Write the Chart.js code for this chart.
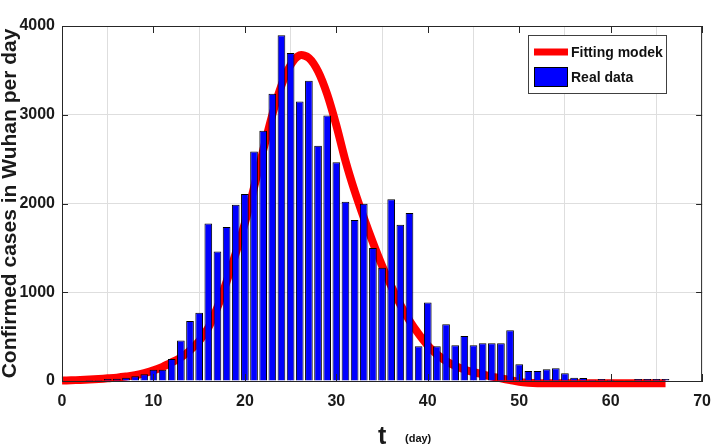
<!DOCTYPE html>
<html>
<head>
<meta charset="utf-8">
<script src="https://cdn.jsdelivr.net/npm/chart.js"></script>
<style>
	html, body { margin: 0; padding: 0; background: #fff; }
	canvas { display: block; }
</style>
</head>
<body>
<canvas id="wuhanChart" width="722" height="445"></canvas>
<script>
// daily confirmed cases (bars), day 1..66
const days = [1,2,3,4,5,6,7,8,9,10,11,12,13,14,15,16,17,18,19,20,21,22,23,24,25,26,27,28,29,30,31,32,33,34,35,36,37,38,39,40,41,42,43,44,45,46,47,48,49,50,51,52,53,54,55,56,57,58,59,60,61,62,63,64,65,66];
const realCases = [0,5,12,12,23,25,37,53,75,128,128,248,455,677,768,1776,1460,1735,1987,2107,2585,2819,3237,3895,3695,3150,3383,2650,2992,2465,2021,1814,1998,1498,1276,2047,1761,1893,391,884,391,640,403,508,403,425,425,425,572,188,113,113,132,143,87,38,34,15,23,15,3,8,23,23,23,23];

// fitted model curve, day 0..66
const fitDays = [0,1,2,3,4,5,6,7,8,9,10,11,12,13,14,15,16,17,18,19,20,21,22,23,24,25,26,27,28,29,30,31,32,33,34,35,36,37,38,39,40,41,42,43,44,45,46,47,48,49,50,51,52,53,54,55,56,57,58,59,60,61,62,63,64,65,66];
const fitCases = [5,8,12,17,23,30,38,50,65,90,120,160,210,265,345,450,600,830,1120,1440,1780,2180,2600,3000,3330,3560,3670,3640,3490,3230,2880,2480,2140,1840,1560,1300,1070,860,680,530,400,300,225,170,130,100,75,50,30,10,-10,-20,-25,-25,-25,-25,-25,-25,-25,-25,-25,-25,-25,-25,-25,-25,-25];

const xTicks = [0,10,20,30,40,50,60,70];
const yTicks = [0,1000,2000,3000,4000];

const seriesNames = ['Fitting modek', 'Real data'];

const fontFamily = "'Liberation Sans Narrow', 'Liberation Sans', Arial, sans-serif";
const tickFont = { family: fontFamily, size: 16, weight: 'bold' };

// box around plot, inward ticks, legend, "(day)"
const framePlugin = {
	id: 'frame',
	afterDraw(chart){
		const ctx = chart.ctx;
		const a = chart.chartArea;
		const xs = chart.scales.x, ys = chart.scales.y;
		ctx.save();
		ctx.strokeStyle = '#262626';
		ctx.lineWidth = 1;
		ctx.strokeRect(a.left + 0.5, a.top + 0.5, a.right - a.left - 1, a.bottom - a.top);
		ctx.beginPath();
		xTicks.forEach(v => {
			const px = Math.round(xs.getPixelForValue(v)) + 0.5;
			ctx.moveTo(px, a.top); ctx.lineTo(px, a.top + 7);
			ctx.moveTo(px, a.bottom); ctx.lineTo(px, a.bottom - 7);
		});
		yTicks.forEach(v => {
			const py = Math.round(ys.getPixelForValue(v)) + 0.5;
			ctx.moveTo(a.left, py); ctx.lineTo(a.left + 6, py);
			ctx.moveTo(a.right, py); ctx.lineTo(a.right - 6, py);
		});
		ctx.stroke();

		// legend
		const lx = 528, ly = 35, lw = 138, lh = 58;
		ctx.fillStyle = '#fff';
		ctx.fillRect(lx, ly, lw, lh);
		ctx.strokeStyle = '#404040';
		ctx.strokeRect(lx + 0.5, ly + 0.5, lw, lh);
		ctx.strokeStyle = '#ff0000';
		ctx.lineWidth = 7;
		ctx.beginPath();
		ctx.moveTo(534, 52); ctx.lineTo(568, 52);
		ctx.stroke();
		ctx.fillStyle = '#0000ff';
		ctx.fillRect(534, 67, 34, 20);
		ctx.strokeStyle = '#000';
		ctx.lineWidth = 1;
		ctx.strokeRect(534.5, 67.5, 33, 19);
		ctx.fillStyle = '#111';
		ctx.font = "bold 14px " + fontFamily;
		ctx.textBaseline = 'middle';
		ctx.textAlign = 'left';
		ctx.fillText(seriesNames[0], 571, 53);
		ctx.fillText(seriesNames[1], 571, 78);

		// unit next to x title
		ctx.font = "bold 11px " + fontFamily;
		ctx.textBaseline = 'alphabetic';
		ctx.fillText('(day)', 405, 442);
		ctx.restore();
	}
};

new Chart(document.getElementById('wuhanChart').getContext('2d'), {
	type: 'bar',
	data: {
		datasets: [
			{
				type: 'bar',
				label: seriesNames[1],
				data: days.map((d, i) => ({ x: d, y: realCases[i] })),
				backgroundColor: '#0000ff',
				borderColor: '#000',
				borderWidth: 1,
				barPercentage: 0.84,
				categoryPercentage: 1,
				order: 0
			},
			{
				type: 'line',
				label: seriesNames[0],
				data: fitDays.map((d, i) => ({ x: d, y: fitCases[i] })),
				borderColor: '#ff0000',
				borderWidth: 8,
				pointRadius: 0,
				tension: 0.3,
				fill: false,
				clip: false,
				order: 1
			}
		]
	},
	plugins: [framePlugin],
	options: {
		responsive: false,
		maintainAspectRatio: false,
		animation: false,
		layout: { padding: { top: 26, right: 10, left: 0, bottom: 0 } },
		plugins: { legend: { display: false }, tooltip: { enabled: false } },
		scales: {
			x: {
				type: 'linear',
				min: 0, max: 70,
				offset: false,
				afterFit: s => { s.height = 64; },
				afterBuildTicks: s => { s.ticks = xTicks.map(v => ({ value: v })); },
				grid: { color: '#dedede', lineWidth: 1, drawTicks: false },
				border: { color: '#262626' },
				ticks: { font: tickFont, color: '#1a1a1a', padding: 11, maxRotation: 0, callback: v => String(v) },
				title: {
					display: true, text: 't', color: '#1a1a1a',
					font: { family: "'Liberation Sans', Arial, sans-serif", size: 25, weight: 'bold', lineHeight: 1 },
					padding: { top: 0, bottom: -5 }
				}
			},
			y: {
				min: 0, max: 4000,
				afterFit: s => { s.width = 62; },
				afterBuildTicks: s => { s.ticks = yTicks.map(v => ({ value: v })); },
				grid: { color: '#dedede', lineWidth: 1, drawTicks: false },
				border: { color: '#262626' },
				ticks: { font: tickFont, color: '#1a1a1a', padding: 7, callback: v => String(v) },
				title: {
					display: true, text: 'Confirmed cases in Wuhan per day', color: '#1a1a1a',
					font: { family: "'Liberation Sans', Arial, sans-serif", size: 21, weight: 'bold', lineHeight: 1 },
					padding: { top: 0, bottom: 0 }
				}
			}
		}
	}
});
</script>
</body>
</html>
